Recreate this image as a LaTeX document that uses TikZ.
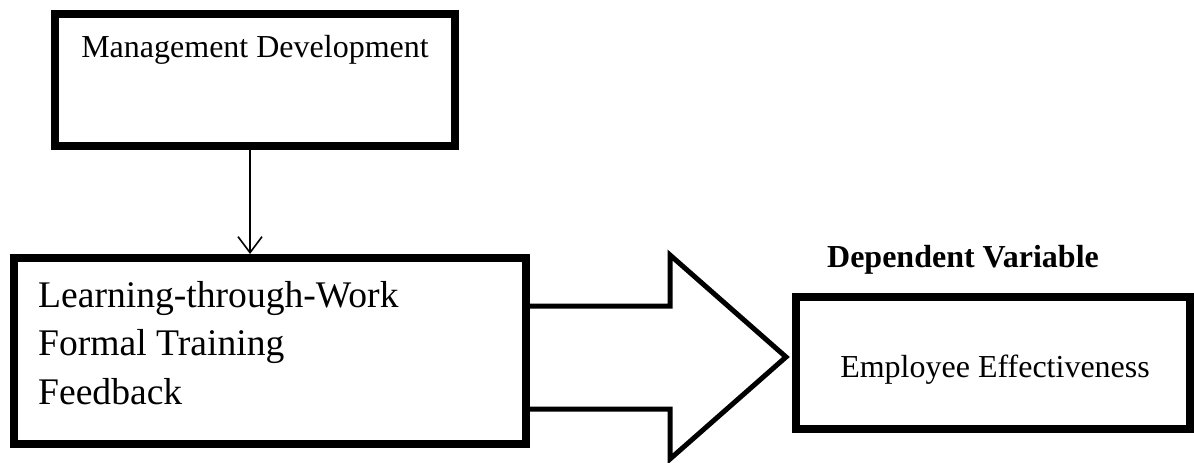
\documentclass[tikz,border=0pt]{standalone}
\usepackage{fontspec}
\setmainfont{Liberation Serif}
\usetikzlibrary{arrows.meta,calc}
\begin{document}
\begin{tikzpicture}[x=1pt,y=-1pt,
  boxstyle/.style={draw=black,line width=8pt,fill=white,inner sep=0pt,rectangle},
  txtm/.style={font=\fontsize{32}{38}\selectfont,inner sep=0pt},
  txtl/.style={font=\fontsize{37.6}{44}\selectfont,inner sep=0pt,anchor=base west},
  thinarrow/.style={line width=1.6pt,-{Straight Barb[length=16pt,width=24pt,line width=1.6pt]}},
  blockarrow/.style={line width=5pt,line join=miter,miter limit=10}]
\useasboundingbox (0,0) rectangle (1194,463);
% boxes
\node[boxstyle,minimum width=400pt,minimum height=132pt] (box1) at (255,80) {};
\node[boxstyle,minimum width=512pt,minimum height=186pt] (box2) at (270,351) {};
\node[boxstyle,minimum width=394pt,minimum height=132pt] (box3) at (993,363) {};
% texts
\node[txtm,anchor=base] (t1) at (255,57) {Management Development};
\node[txtl] (t2a) at (38,307) {Learning-through-Work};
\node[txtl] (t2b) at (38,355) {Formal Training};
\node[txtl] (t2c) at (38,404) {Feedback};
\node[txtm,anchor=base] (t3) at (995,377) {Employee Effectiveness};
\node[txtm,anchor=base,font=\fontsize{32}{38}\selectfont\bfseries] (dv) at (963,267) {Dependent Variable};
% thin arrow
\draw[thinarrow] ($(box1.south)+(-5,0)$) -- ($(box2.north)+(-20,0)$);
% block arrow
\coordinate (bs) at ($(box2.east)+(0,-45)$);
\coordinate (be) at ($(box2.east)+(0,58)$);
\draw[blockarrow] (bs) -- (670,306) -- (670,255) -- (786,357) -- (670,459) -- (670,409) -- (be);
\end{tikzpicture}
\end{document}
